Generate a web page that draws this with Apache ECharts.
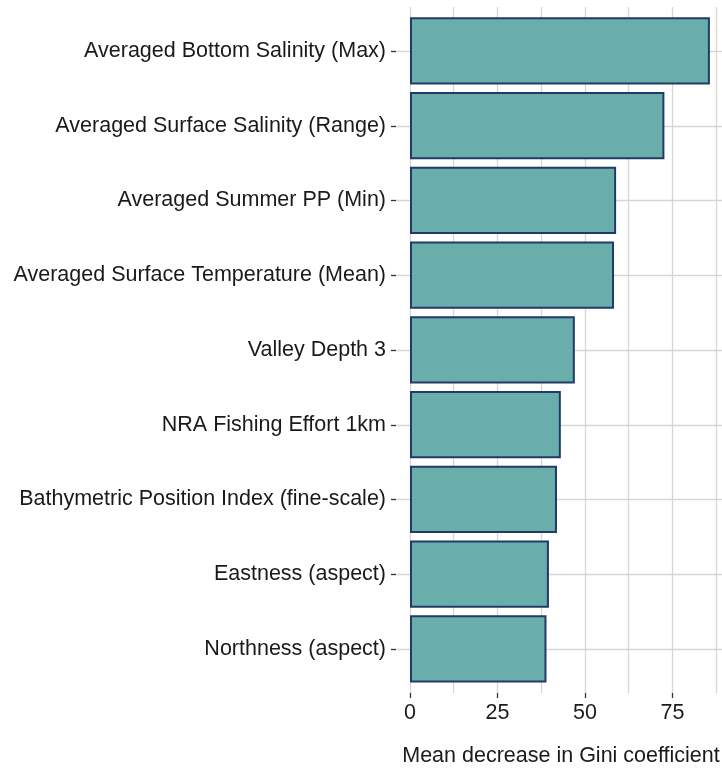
<!DOCTYPE html>
<html>
<head>
  <meta charset="UTF-8">
  <title>Gini importance</title>
  <style type="text/css">
    html, body { margin: 0; padding: 0; background: #ffffff; }
    #chart { width: 722px; height: 768px; }
  </style>
  <script src="https://cdn.jsdelivr.net/npm/echarts@6/dist/echarts.min.js"></script>
</head>
<body>
<div id="chart"></div>
<script type="text/javascript">
    // variables, top to bottom
    var categories = [
        'Averaged Bottom Salinity (Max)',
        'Averaged Surface Salinity (Range)',
        'Averaged Summer PP (Min)',
        'Averaged Surface Temperature (Mean)',
        'Valley Depth 3',
        'NRA Fishing Effort 1km',
        'Bathymetric Position Index (fine-scale)',
        'Eastness (aspect)',
        'Northness (aspect)'
    ];
    var giniValues = [85.7, 72.7, 58.9, 58.3, 47.1, 43.1, 42.0, 39.7, 39.0];
    var xTicks = [0, 25, 50, 75];
    var xTitle = 'Mean decrease in Gini coefficient';

    var font = 'Liberation Sans, Arial, sans-serif';
    var gridColor = '#d6d6d6';
    var xMax = 90.3;

    var myChart = echarts.init(document.getElementById('chart'));

    var option = {
        backgroundColor: '#ffffff',
        animation: false,
        grid: [
            // vertical gridlines + x axis
            {left: 410, right: -4, top: 7, bottom: 75, containLabel: false, outerBoundsMode: 'none'},
            // horizontal gridlines + labels (whole panel width)
            {left: 396, right: -4, top: 51, height: 598, containLabel: false, outerBoundsMode: 'none'},
            // bars
            {left: 410, right: -4, top: 13.6, height: 672.75, containLabel: false, outerBoundsMode: 'none'}
        ],
        xAxis: [
            {
                gridIndex: 0, type: 'value', position: 'bottom',
                min: 0, max: xMax, interval: 12.5,
                axisLine: {show: false}, axisTick: {show: false}, axisLabel: {show: false},
                splitLine: {show: true, lineStyle: {color: gridColor, width: 1.3}}
            },
            {
                gridIndex: 0, type: 'value', position: 'bottom',
                min: 0, max: xMax, interval: 25,
                axisLine: {show: false},
                axisTick: {show: true, length: 5, lineStyle: {color: '#333333', width: 1.3}},
                axisLabel: {
                    show: true, margin: 9, fontSize: 21.5, fontFamily: font, color: '#1a1a1a',
                    formatter: function (v) { return xTicks.indexOf(v) >= 0 ? String(v) : ''; }
                },
                splitLine: {show: false}
            },
            {
                // only carries the axis title, centred on the full panel
                gridIndex: 1, type: 'value', position: 'bottom', min: 0, max: 1,
                axisLine: {show: false}, axisTick: {show: false}, axisLabel: {show: false},
                splitLine: {show: false},
                name: xTitle, nameLocation: 'middle', nameGap: 96,
                nameTextStyle: {fontSize: 21.5, fontFamily: font, color: '#1a1a1a'}
            },
            {
                gridIndex: 2, type: 'value', min: 0, max: xMax, show: false
            }
        ],
        yAxis: [
            {
                gridIndex: 0, type: 'value', show: false
            },
            {
                gridIndex: 1, type: 'value', inverse: true,
                min: 0, max: categories.length - 1, interval: 1,
                axisLine: {show: false},
                axisTick: {show: true, length: 5, lineStyle: {color: '#333333', width: 1.3}},
                axisLabel: {
                    margin: 10, fontSize: 21.5, fontFamily: font, color: '#1a1a1a',
                    formatter: function (v) { return categories[v] || ''; }
                },
                splitLine: {show: true, lineStyle: {color: gridColor, width: 1.3}}
            },
            {
                gridIndex: 2, type: 'category', inverse: true,
                data: categories, show: false
            }
        ],
        series: [
            {
                type: 'bar',
                xAxisIndex: 3,
                yAxisIndex: 2,
                data: giniValues,
                barCategoryGap: '10%',
                itemStyle: {
                    color: '#69aeab',
                    borderColor: '#223a68',
                    borderWidth: 2
                },
                z: 5
            }
        ]
    };
    myChart.setOption(option);
</script>
</body>
</html>
